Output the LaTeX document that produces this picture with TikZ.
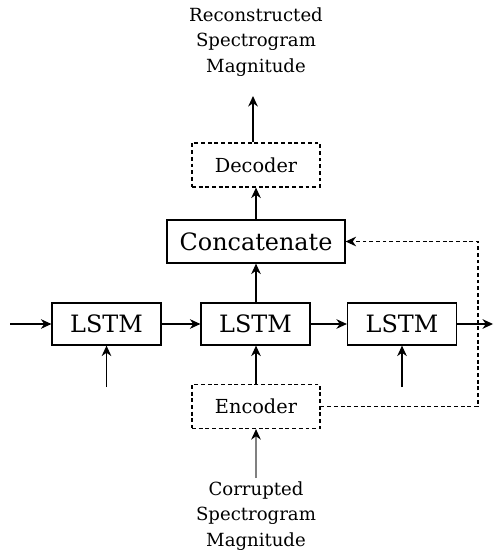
\documentclass[tikz,border=0pt]{standalone}
\usepackage{fontspec}
\setmainfont{DejaVu Serif}
\usetikzlibrary{arrows.meta}
\begin{document}
\begin{tikzpicture}[x=0.02cm,y=-0.02cm,line width=0.7pt,
    >={Stealth[length=6pt,width=5.5pt]},
    block/.style={draw,inner sep=0pt,minimum width=2.18cm,minimum height=0.84cm,
      font=\fontsize{13.6}{16}\selectfont},
    dashbox/.style={draw,dash pattern=on 2.2pt off 1.6pt,inner sep=0pt,
      minimum width=2.56cm,minimum height=0.88cm,font=\fontsize{11}{13}\selectfont},
    textlbl/.style={align=center,font=\fontsize{10.3}{14.5}\selectfont},
    dashline/.style={dash pattern=on 2.2pt off 1.6pt}]
    \useasboundingbox (0,0) rectangle (494,553);

    % --- LSTM chain ---
    \node[block] (lstmA) at (106.5,324) {LSTM};
    \node[block] (lstmB) at (255.5,324) {LSTM};
    \node[block] (lstmC) at (402,324) {LSTM};
    \coordinate (start) at (10,324);
    \coordinate (end) at (493,324);
    \draw[->] (start) -- (lstmA);
    \draw[->] (lstmA) -- (lstmB);
    \draw[->] (lstmB) -- (lstmC);
    \draw[->] (lstmC) -- (end);

    % --- Inputs from below ---
    \coordinate (inA) at (106.5,387);
    \coordinate (inC) at (402,387);
    \draw[->] (inA) -- (lstmA);
    \draw[->] (inC) -- (lstmC);

    % --- Encoder ---
    \node[dashbox] (enc) at (256,406.5) {Encoder};
    \node[textlbl] (corrupt) at (256,516) {Corrupted\\Spectrogram\\Magnitude};
    \coordinate (inBot) at (256,478);
    \draw[gray,-{Stealth[length=6pt,width=5.5pt,black]}] (inBot) -- (enc);
    \draw[->] (enc) -- (enc |- lstmB.south);

    % --- Concatenate and decoder ---
    \node[block,minimum width=3.56cm,minimum height=0.86cm] (concat) at (256,241.5) {Concatenate};
    \node[dashbox] (dec) at (256,165) {Decoder};
    \node[textlbl] (recon) at (256,42) {Reconstructed\\Spectrogram\\Magnitude};
    \coordinate (outTop) at (253,96);
    \draw[->] (lstmB.north -| concat) -- (concat);
    \draw[->] (concat) -- (dec);
    \draw[->] (dec.north -| outTop) -- (outTop);

    % --- Skip from encoder ---
    \coordinate (loop) at (478,241.5);
    \draw[dashline,->] (enc.east) -| (loop) -- (concat.east);

\end{tikzpicture}
\end{document}
